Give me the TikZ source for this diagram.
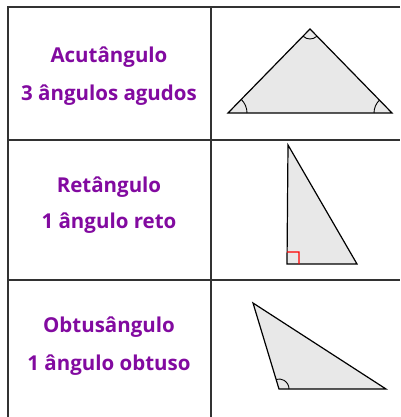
\documentclass[tikz,border=0pt]{standalone}
\usepackage{fontspec}
\setmainfont{Open Sans}
\usetikzlibrary{angles}
\definecolor{roxo}{RGB}{130,10,160}
\definecolor{grade}{RGB}{50,50,50}
\definecolor{preenche}{RGB}{232,232,232}
\tikzset{
  rotulo/.style={text=roxo, font=\fontsize{20.5}{24}\selectfont\bfseries, anchor=base},
  linha/.style={grade, line width=1.5pt},
  tri/.style={fill=preenche, draw=black, line width=1.2pt, line join=miter},
  marca/.style={draw=black, line width=0.9pt, angle radius=10pt}
}
\begin{document}
\begin{tikzpicture}[x=1pt, y=-1pt]
        \useasboundingbox (0,0) rectangle (400,417);

        % grid
        \coordinate (TL) at (8,7);
        \coordinate (TR) at (400,7);
        \coordinate (M1L) at (8,140);
        \coordinate (M1R) at (400,140);
        \coordinate (M2L) at (8,280);
        \coordinate (M2R) at (400,280);
        \coordinate (BL) at (8,417);
        \coordinate (MT) at (211,7);
        \coordinate (MB) at (211,417);
        \draw[linha] (TR) -- (TL) -- (BL);
        \draw[linha] (MT) -- (MB);
        \draw[linha] (M1L) -- (M1R);
        \draw[linha] (M2L) -- (M2R);

        % labels
        \node[rotulo] (acuto) at (109,63) {Acutângulo};
        \node[rotulo] (acutoB) at (109,100) {3 ângulos agudos};
        \node[rotulo] (reto) at (109,192) {Retângulo};
        \node[rotulo] (retoB) at (109,228) {1 ângulo reto};
        \node[rotulo] (obtuso) at (109,332) {Obtusângulo};
        \node[rotulo] (obtusoB) at (109,370) {1 ângulo obtuso};

        % acute triangle
        \coordinate (A1) at (228,113);
        \coordinate (A2) at (392,113);
        \coordinate (A3) at (310,29);
        \draw[tri] (A1) -- (A2) -- (A3) -- cycle;
        \pic[marca, angle radius=19pt] {angle=A2--A1--A3};
        \pic[marca, angle radius=18pt] {angle=A3--A2--A1};
        \pic[marca] {angle=A1--A3--A2};

        % right triangle
        \coordinate (R1) at (287,264);
        \coordinate (R2) at (357,264);
        \coordinate (R3) at (288,145);
        \draw[tri] (R1) -- (R2) -- (R3) -- cycle;
        \pic[draw=red, line width=1.2pt, angle radius=12pt] {right angle=R2--R1--R3};

        % obtuse triangle
        \coordinate (O1) at (279,389);
        \coordinate (O2) at (386,389);
        \coordinate (O3) at (253,303);
        \draw[tri] (O1) -- (O2) -- (O3) -- cycle;
        \pic[marca] {angle=O2--O1--O3};
\end{tikzpicture}
\end{document}
